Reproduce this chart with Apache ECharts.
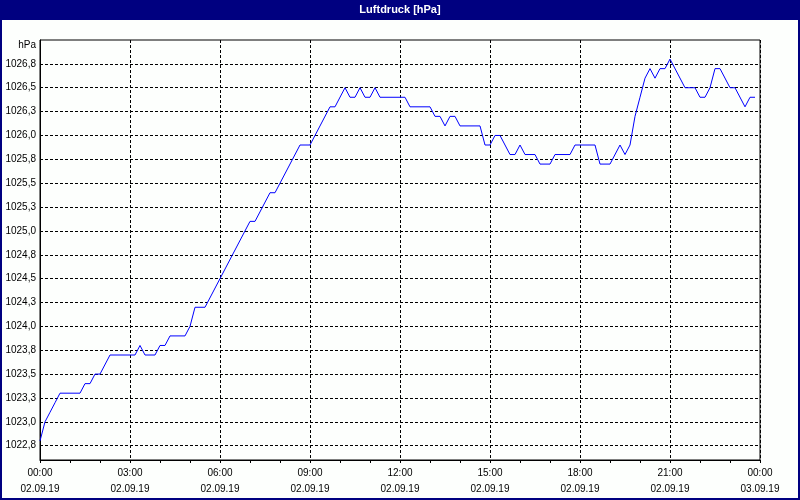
<!DOCTYPE html>
<html><head><meta charset="utf-8">
<script src="https://cdn.jsdelivr.net/npm/echarts@6/dist/echarts.min.js"></script>
<style>html,body{margin:0;padding:0;background:#fff}#c{width:800px;height:500px}</style>
</head><body><div id="c"></div>
<script>
const times = ["00:00","00:10","00:20","00:30","00:40","01:20","01:30","01:40","01:50","02:00","02:20","03:10","03:20","03:30","03:50","04:00","04:10","04:20","04:50","05:00","05:10","05:30","07:00","07:10","07:40","07:50","08:40","09:00","09:40","09:50","10:10","10:20","10:30","10:40","10:50","11:00","11:10","11:20","12:10","12:20","13:00","13:10","13:20","13:30","13:40","13:50","14:00","14:40","14:50","15:00","15:10","15:20","15:40","15:50","16:00","16:10","16:30","16:40","17:00","17:10","17:40","17:50","18:30","18:40","19:00","19:20","19:30","19:40","19:50","20:00","20:10","20:20","20:30","20:40","20:50","21:00","21:30","21:50","22:00","22:10","22:20","22:30","22:40","23:00","23:10","23:30","23:40","23:50"];
const pressure = [1022.8,1023.0,1023.1,1023.2,1023.3,1023.3,1023.4,1023.4,1023.5,1023.5,1023.7,1023.7,1023.8,1023.7,1023.7,1023.8,1023.8,1023.9,1023.9,1024.0,1024.2,1024.2,1025.1,1025.1,1025.4,1025.4,1025.9,1025.9,1026.3,1026.3,1026.5,1026.4,1026.4,1026.5,1026.4,1026.4,1026.5,1026.4,1026.4,1026.3,1026.3,1026.2,1026.2,1026.1,1026.2,1026.2,1026.1,1026.1,1025.9,1025.9,1026.0,1026.0,1025.8,1025.8,1025.9,1025.8,1025.8,1025.7,1025.7,1025.8,1025.8,1025.9,1025.9,1025.7,1025.7,1025.9,1025.8,1025.9,1026.2,1026.4,1026.6,1026.7,1026.6,1026.7,1026.7,1026.8,1026.5,1026.5,1026.4,1026.4,1026.5,1026.7,1026.7,1026.5,1026.5,1026.3,1026.4,1026.4];
const yTicks = [1022.75,1023.0,1023.25,1023.5,1023.75,1024.0,1024.25,1024.5,1024.75,1025.0,1025.25,1025.5,1025.75,1026.0,1026.25,1026.5,1026.75];
const xTickLabels = ["00:00\n02.09.19","03:00\n02.09.19","06:00\n02.09.19","09:00\n02.09.19","12:00\n02.09.19","15:00\n02.09.19","18:00\n02.09.19","21:00\n02.09.19","00:00\n03.09.19"];
const titleText = "Luftdruck [hPa]";
const unit = "hPa";

const FONT = "'Liberation Sans', Arial, sans-serif";
const data = times.map((t, i) => {
  const [h, m] = t.split(":").map(Number);
  return [h + m / 60, pressure[i]];
});

const chart = echarts.init(document.getElementById('c'), null, {renderer: 'canvas'});
chart.setOption({
  animation: false,
  backgroundColor: '#fdfffd',
  title: {
    text: titleText, left: 'center', top: 4, padding: 0,
    textStyle: {color: '#ffffff', fontSize: 11, fontWeight: 'bold', fontFamily: FONT}
  },
  graphic: [
    {type: 'rect', z: -1, silent: true, shape: {x: 0, y: 0, width: 800, height: 20}, style: {fill: '#000080'}},
    {type: 'rect', z: -1, silent: true, shape: {x: 1, y: 1, width: 798, height: 498}, style: {fill: 'none', stroke: '#000080', lineWidth: 2}}
  ],
  grid: {left: 40, right: 40, top: 40, bottom: 40, show: true, borderColor: '#000', borderWidth: 1, backgroundColor: 'transparent'},
  xAxis: {
    type: 'value', min: 0, max: 24, interval: 3,
    axisLine: {show: true, lineStyle: {color: '#000', width: 1}},
    axisTick: {show: true, length: 3, lineStyle: {color: '#000'}},
    minorTick: {show: true, splitNumber: 3, length: 3, lineStyle: {color: '#000'}},
    splitLine: {show: true, lineStyle: {color: '#000', type: [3, 2], width: 1}},
    axisLabel: {
      margin: 5, color: '#000', fontSize: 10, lineHeight: 16, fontFamily: FONT,
      formatter: v => xTickLabels[Math.round(v / 3)]
    }
  },
  yAxis: {
    type: 'value', min: 1022.6, max: 1027.0,
    name: unit, nameLocation: 'end', nameGap: -5,
    nameTextStyle: {color: '#000', fontSize: 10, fontFamily: FONT, align: 'right', verticalAlign: 'middle', padding: [0, 4, 0, 0]},
    axisLine: {show: true, lineStyle: {color: '#000', width: 1}},
    axisTick: {show: false, customValues: yTicks},
    splitLine: {show: true, lineStyle: {color: '#000', type: [3, 2], width: 1}},
    axisLabel: {
      customValues: yTicks, margin: 4, color: '#000', fontSize: 10, fontFamily: FONT,
      formatter: v => v.toFixed(1).replace('.', ',')
    }
  },
  series: [{
    type: 'line', data: data, showSymbol: false, symbol: 'none',
    lineStyle: {color: '#0000ff', width: 1}, z: 3
  }]
});
</script></body></html>
